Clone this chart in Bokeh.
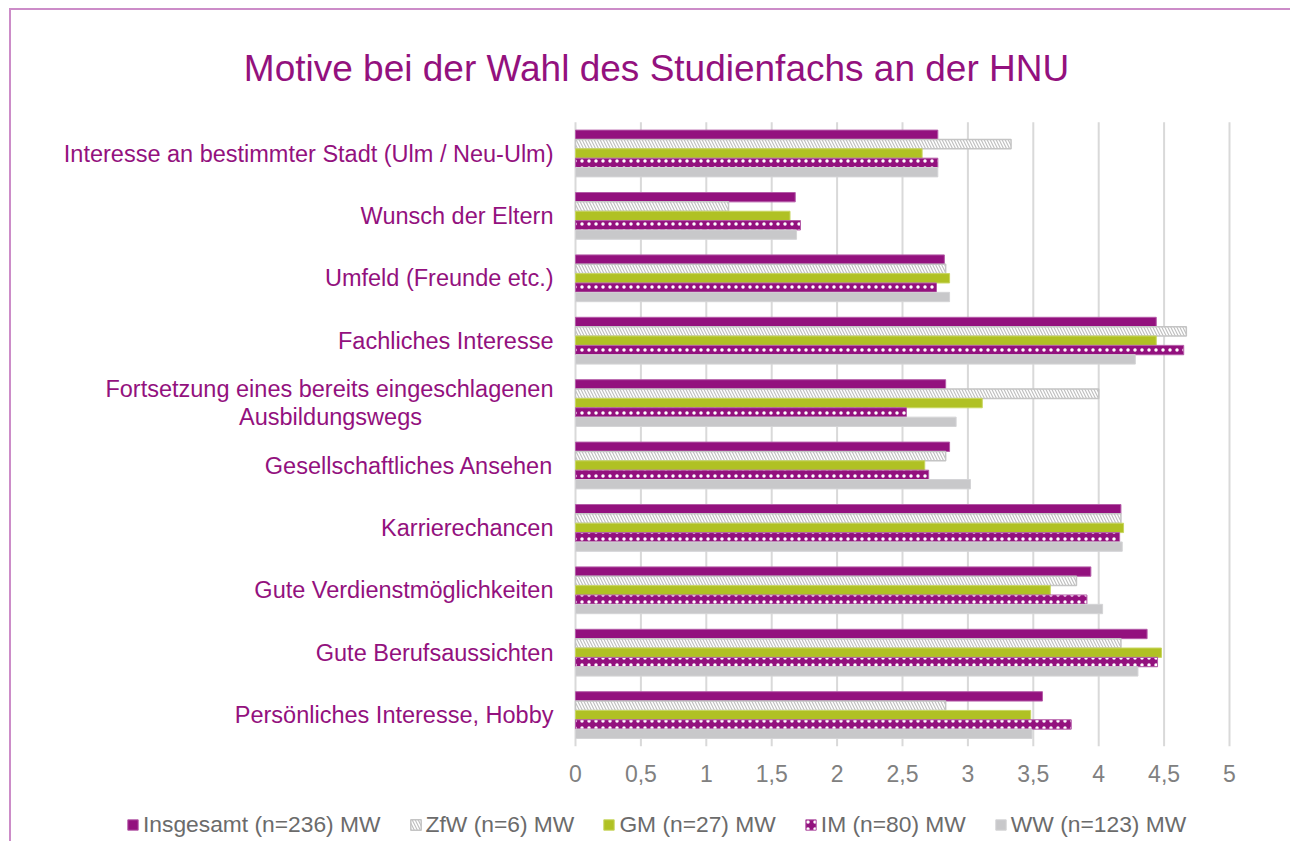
from bokeh.plotting import figure
from bokeh.models import Range1d, Legend, LegendItem
from bokeh.core.properties import value
from bokeh.embed import file_html
from bokeh.resources import INLINE

# ---- data ----
categories = [
    "Interesse an bestimmter Stadt (Ulm / Neu-Ulm)",
    "Wunsch der Eltern",
    "Umfeld (Freunde etc.)",
    "Fachliches Interesse",
    "Fortsetzung eines bereits eingeschlagenen\nAusbildungswegs",
    "Gesellschaftliches Ansehen",
    "Karrierechancen",
    "Gute Verdienstmöglichkeiten",
    "Gute Berufsaussichten",
    "Persönliches Interesse, Hobby",
]
insgesamt = [2.77, 1.68, 2.82, 4.44, 2.83, 2.86, 4.17, 3.94, 4.37, 3.57]
zfw       = [3.33, 1.17, 2.83, 4.67, 4.00, 2.83, 4.17, 3.83, 4.17, 2.83]
gm        = [2.65, 1.64, 2.86, 4.44, 3.11, 2.67, 4.19, 3.63, 4.48, 3.48]
im        = [2.77, 1.72, 2.76, 4.65, 2.53, 2.70, 4.16, 3.91, 4.45, 3.79]
ww        = [2.77, 1.69, 2.86, 4.28, 2.91, 3.02, 4.18, 4.03, 4.30, 3.49]
series_names = ["Insgesamt (n=236) MW", "ZfW (n=6) MW", "GM (n=27) MW",
                "IM (n=80) MW", "WW (n=123) MW"]
tick_values = [0, 0.5, 1, 1.5, 2, 2.5, 3, 3.5, 4, 4.5, 5]
tick_labels = ["0", "0,5", "1", "1,5", "2", "2,5", "3", "3,5", "4", "4,5", "5"]
title_text = "Motive bei der Wahl des Studienfachs an der HNU"

PURPLE = "#93117e"
GREEN = "#b0c124"
GREY = "#c8c8ca"
FONT = value("Liberation Sans")

W, H = 1281, 833
X0, PXU = 564.0, 130.8      # screen x of value 0, pixels per unit
Y0, PXC = 143.0, 62.4       # screen y of first category, pixels per category

p = figure(width=W, height=H, output_backend="svg", toolbar_location=None,
           x_range=Range1d(-X0 / PXU, (W - X0) / PXU),
           y_range=Range1d((H - Y0) / PXC, -Y0 / PXC),
           min_border=0, title=None)
p.styles = {"margin-left": "9px", "margin-top": "8px",
            "border-top": "2px solid #cc8cc8", "border-left": "2px solid #cc8cc8"}
p.outline_line_color = None
p.background_fill_color = "white"
p.border_fill_color = "white"
p.xaxis.visible = False
p.yaxis.visible = False
p.xgrid.visible = False
p.ygrid.visible = False

n = len(categories)
idx = list(range(n))

# vertical grid lines at the tick values
p.segment(x0=tick_values, y0=[-0.5] * len(tick_values), x1=tick_values,
          y1=[n - 0.5] * len(tick_values), line_color="#d9d9d9", line_width=2)

# tick labels
p.text(x=tick_values, y=[n - 0.5] * len(tick_values), text=tick_labels,
       y_offset=27, text_align="center", text_baseline="middle", text_font=FONT,
       text_font_size="23px", text_color="#808080")

h = 0.15
offsets = [-0.3, -0.15, 0.0, 0.15, 0.3]
values = [insgesamt, zfw, gm, im, ww]
styles = [
    dict(fill_color=PURPLE, line_color="#b45ca8", line_width=1),
    dict(fill_color="white", line_color="#c4c4c4", line_width=1.5,
         hatch_pattern="left_diagonal_line", hatch_color="#c0c0c0",
         hatch_scale=6, hatch_weight=1.2),
    dict(fill_color=GREEN, line_color="#c8d660", line_width=1),
    dict(fill_color=PURPLE, line_color="#b45ca8", line_width=1,
         hatch_pattern="dot", hatch_color="white", hatch_scale=7, hatch_weight=1),
    dict(fill_color=GREY, line_color="#d4d4d6", line_width=1),
]
items = []
for name, vals, off, st in zip(series_names, values, offsets, styles):
    r = p.hbar(y=[i + off for i in idx], right=vals, left=0, height=h, **st)
    items.append(LegendItem(label=name, renderers=[r]))

legend = Legend(items=items, orientation="horizontal", location=(115, 5),
                glyph_width=13, glyph_height=13, label_standoff=4, spacing=28,
                padding=0, margin=0, border_line_color=None,
                background_fill_alpha=0, label_text_font="Liberation Sans",
                label_text_font_size="22.8px", label_text_color="#6b6b6b",
                label_height=13)
p.add_layout(legend, "center")

# category labels
single_y, single_t = [], []
for i, cat in zip(idx, categories):
    lines = cat.split("\n")
    if len(lines) == 1:
        single_y.append(i)
        single_t.append(cat)
    else:
        p.text(x=[0], y=[i], text=[lines[0]], x_offset=-22, y_offset=-14,
               text_align="right", text_baseline="middle", text_font=FONT,
               text_font_size="23.5px", text_color=PURPLE)
        p.text(x=[0], y=[i], text=[lines[1]], x_offset=-245, y_offset=14,
               text_align="center", text_baseline="middle", text_font=FONT,
               text_font_size="23.5px", text_color=PURPLE)
p.text(x=[0] * len(single_y), y=single_y, text=single_t, x_offset=-22,
       text_align="right", text_baseline="middle", text_font=FONT,
       text_font_size="23.5px", text_color=PURPLE)

# title
p.text(x=[0], y=[-0.5], text=[title_text], x_offset=81, y_offset=-54,
       text_align="center", text_baseline="middle", text_font=FONT,
       text_font_size="37px", text_color=PURPLE)

open("out.html", "w").write(file_html(p, INLINE))
